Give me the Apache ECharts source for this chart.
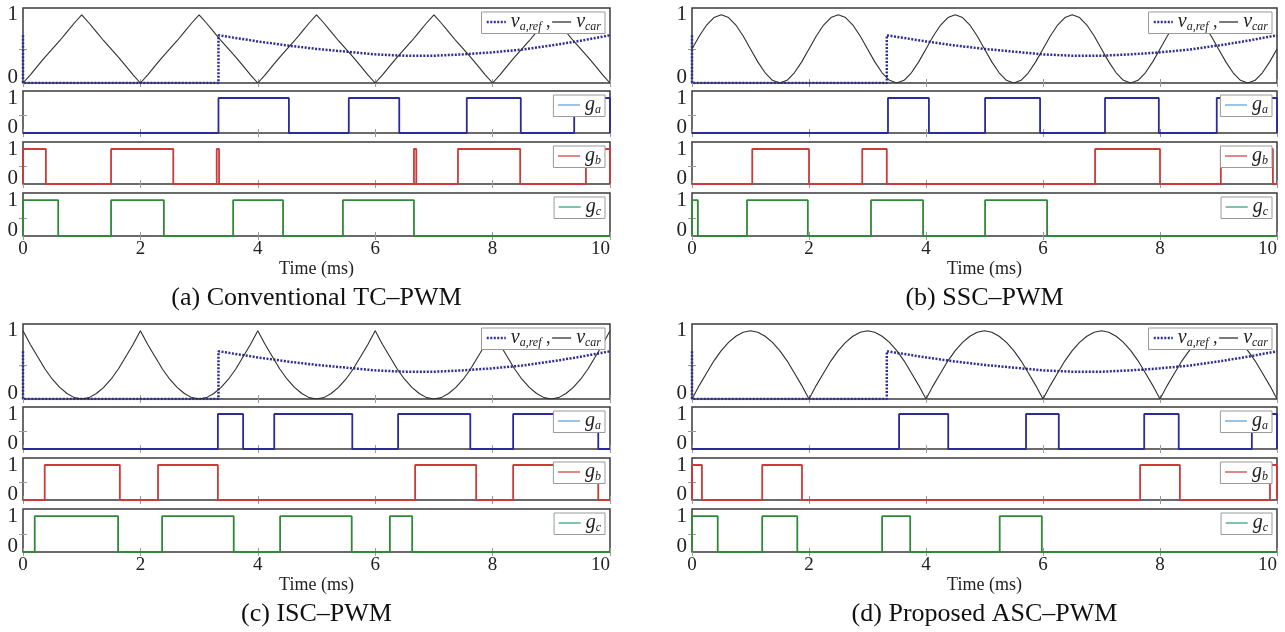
<!DOCTYPE html>
<html>
<head>
<meta charset="utf-8">
<title>PWM carriers</title>
<script src="https://cdn.jsdelivr.net/npm/echarts@6/dist/echarts.min.js"></script>
<style>
html,body{margin:0;padding:0;background:#fff;}
#chart{width:1285px;height:632px;}
</style>
</head>
<body>
<div id="chart"></div>
<script>
// one carrier period (ms), repeated from each start
var periodT = [0, 0.125, 0.25, 0.375, 0.5, 0.625, 0.75, 0.875, 1, 1.125, 1.25, 1.375, 1.5, 1.625, 1.75, 1.875, 2];
var periodStarts = [0, 2, 4, 6, 8];
var carrierTC  = [0, 0.12, 0.25, 0.38, 0.5, 0.62, 0.75, 0.88, 1, 0.88, 0.75, 0.62, 0.5, 0.38, 0.25, 0.12, 0];
var carrierSSC = [0.5, 0.69, 0.85, 0.96, 1, 0.96, 0.85, 0.69, 0.5, 0.31, 0.15, 0.04, 0, 0.04, 0.15, 0.31, 0.5];
var carrierISC = [1, 0.8, 0.62, 0.44, 0.29, 0.17, 0.08, 0.02, 0, 0.02, 0.08, 0.17, 0.29, 0.44, 0.62, 0.8, 1];
var carrierASC = [0, 0.2, 0.38, 0.56, 0.71, 0.83, 0.92, 0.98, 1, 0.98, 0.92, 0.83, 0.71, 0.56, 0.38, 0.2, 0];

// reference of phase a
var refT = [0, 0, 3.33, 3.33, 4, 4.5, 5, 5.5, 6, 6.5, 7, 7.5, 8, 8.5, 9, 9.5, 10];
var refV = [0.7, 0, 0, 0.7, 0.61, 0.55, 0.5, 0.46, 0.42, 0.4, 0.4, 0.42, 0.45, 0.49, 0.55, 0.62, 0.7];

// gate on/off times (ms)
var gaTC = [[3.33, 4.53], [5.55, 6.41], [7.56, 8.48], [9.39, 10]];
var gbTC = [[0, 0.39], [1.5, 2.56], [3.3, 3.34], [6.66, 6.7], [7.41, 8.47], [9.59, 10]];
var gcTC = [[0, 0.6], [1.5, 2.4], [3.58, 4.43], [5.45, 6.66]];

var gaSSC = [[3.35, 4.05], [5.01, 5.95], [7.06, 7.98], [8.97, 10]];
var gbSSC = [[1.03, 2.0], [2.91, 3.33], [6.89, 8.0], [9.04, 9.93]];
var gcSSC = [[0, 0.1], [0.94, 1.98], [3.06, 3.95], [5.01, 6.07]];

var gaISC = [[3.32, 3.75], [4.28, 5.61], [6.39, 7.62], [8.35, 9.8]];
var gbISC = [[0.37, 1.65], [2.3, 3.32], [6.68, 7.72], [8.35, 9.8]];
var gcISC = [[0.2, 1.62], [2.37, 3.59], [4.38, 5.6], [6.25, 6.63]];

var gaASC = [[3.54, 4.38], [5.71, 6.27], [7.73, 8.32], [9.57, 10]];
var gbASC = [[0, 0.17], [1.2, 1.88], [7.66, 8.34], [9.88, 10]];
var gcASC = [[0, 0.44], [1.2, 1.8], [3.25, 3.73], [5.26, 5.98]];

var yLabels = [0, 1];
var yTicks = [0.5];
var captions = ['(a) Conventional TC\u2013PWM', '(b) SSC\u2013PWM', '(c) ISC\u2013PWM', '(d) Proposed ASC\u2013PWM'];

var FONT = 'Liberation Serif';
var colors = {ref: '#2d2d95', car: '#2e2e2e', ga: '#2a2a9c', gb: '#cc3a3a', gc: '#2f8a37'};
var legendLine = {ga: '#5b9bd5', gb: '#cc3a3a', gc: '#2f9a6a'};

var panels = [
    {left: 23, width: 587, top: 8, carrier: carrierTC, ga: gaTC, gb: gbTC, gc: gcTC},
    {left: 692, width: 585, top: 8, carrier: carrierSSC, ga: gaSSC, gb: gbSSC, gc: gcSSC},
    {left: 23, width: 587, top: 324, carrier: carrierISC, ga: gaISC, gb: gbISC, gc: gcISC},
    {left: 692, width: 585, top: 324, carrier: carrierASC, ga: gaASC, gb: gbASC, gc: gcASC}
];
var rows = [
    {off: 0, h: 75, max: 1.1},
    {off: 83, h: 42, max: 1.2},
    {off: 134, h: 42, max: 1.2},
    {off: 185, h: 43, max: 1.2}
];

function carrierData(vals) {
    var out = [];
    periodStarts.forEach(function (s, k) {
        for (var j = (k === 0 ? 0 : 1); j < periodT.length; j++) {
            out.push([s + periodT[j], vals[j]]);
        }
    });
    return out;
}
function pulseData(list) {
    var out = [[0, 0]];
    list.forEach(function (p) {
        out.push([p[0], 0], [p[0], 1], [p[1], 1], [p[1], 0]);
    });
    out.push([10, 0]);
    return out;
}
function refData() {
    return refT.map(function (t, i) { return [t, refV[i]]; });
}

var rich = {
    v: {fontFamily: FONT, fontStyle: 'italic', fontSize: 20, color: '#222'},
    s: {fontFamily: FONT, fontStyle: 'italic', fontSize: 12, color: '#222', padding: [9, 0, 0, 0]},
    c: {fontFamily: FONT, fontSize: 18, color: '#222'}
};
var legendText = {
    va_ref: '{v|v}{s|a,ref}{c| ,}',
    v_car: '{v|v}{s|car}',
    ga: '{v|g}{s|a}',
    gb: '{v|g}{s|b}',
    gc: '{v|g}{s|c}'
};

var grid = [], xAxis = [], yAxis = [], series = [], legend = [], title = [];

panels.forEach(function (p, pi) {
    rows.forEach(function (r, ri) {
        var gi = grid.length;
        var last = ri === rows.length - 1;
        grid.push({
            left: p.left, width: p.width, top: p.top + r.off, height: r.h,
            show: true, borderColor: '#3a3a3a', borderWidth: 1.5
        });
        var tick = {inside: true, length: 4, lineStyle: {color: '#9a9a9a'}};
        xAxis.push({
            gridIndex: gi, type: 'value', min: 0, max: 10, interval: 2,
            axisLine: {show: false}, axisTick: tick, splitLine: {show: false},
            axisLabel: {show: last, fontFamily: FONT, fontSize: 19, color: '#222', margin: 4, alignMaxLabel: 'right'},
            name: last ? 'Time (ms)' : '', nameLocation: 'middle', nameGap: 14,
            nameTextStyle: {fontFamily: FONT, fontSize: 18, color: '#222'}
        });
        xAxis.push({
            gridIndex: gi, type: 'value', position: 'top', min: 0, max: 10, interval: 2,
            axisLine: {show: false}, axisTick: tick, splitLine: {show: false}, axisLabel: {show: false}
        });
        yAxis.push({
            gridIndex: gi, type: 'value', min: 0, max: r.max,
            axisLine: {show: false}, splitLine: {show: false},
            axisTick: {inside: true, length: 4, lineStyle: {color: '#9a9a9a'}, customValues: yTicks},
            axisLabel: {customValues: yLabels, fontFamily: FONT, fontSize: 21, lineHeight: 12, color: '#222', margin: 5,
                verticalAlignMinLabel: 'bottom'}
        });
        yAxis.push({
            gridIndex: gi, type: 'value', position: 'right', min: 0, max: r.max,
            axisLine: {show: false}, splitLine: {show: false}, axisLabel: {show: false},
            axisTick: {inside: true, length: 4, lineStyle: {color: '#9a9a9a'}, customValues: yTicks}
        });
        var xi = 2 * gi, yi = 2 * gi;
        var right = 1285 - (p.left + p.width) + 5;
        var lg = {
            orient: 'horizontal', right: right, top: p.top + r.off + 4,
            backgroundColor: '#fff', borderColor: '#9a9a9a', borderWidth: 1,
            padding: [0, 4, 1, 4], itemGap: 1, itemWidth: 19, itemHeight: 12,
            selectedMode: false,
            itemStyle: {opacity: 0},
            formatter: function (name) { return legendText[name]; },
            textStyle: {rich: rich}
        };
        if (ri === 0) {
            series.push({
                name: 'va_ref', type: 'line', xAxisIndex: xi, yAxisIndex: yi, symbol: 'none',
                data: refData(), z: 3, itemStyle: {color: colors.ref},
                lineStyle: {color: colors.ref, width: 2.5, type: [2, 1.5]}
            });
            series.push({
                name: 'v_car', type: 'line', xAxisIndex: xi, yAxisIndex: yi, symbol: 'none',
                data: carrierData(p.carrier), itemStyle: {color: colors.car},
                lineStyle: {color: colors.car, width: 1.1}
            });
            lg.data = [
                {name: 'va_ref', lineStyle: {color: colors.ref, width: 2.5, type: [2, 1.5]}},
                {name: 'v_car', lineStyle: {color: '#222', width: 1.2}}
            ];
        } else {
            var key = ['ga', 'gb', 'gc'][ri - 1];
            series.push({
                name: key, type: 'line', xAxisIndex: xi, yAxisIndex: yi, symbol: 'none',
                data: pulseData(p[key]), itemStyle: {color: colors[key]},
                lineStyle: {color: colors[key], width: 1.8}
            });
            lg.data = [{name: key, lineStyle: {color: legendLine[key], width: 1.2}}];
            lg.itemWidth = 22;
        }
        legend.push(lg);
    });
    title.push({
        text: captions[pi], left: p.left + p.width / 2, textAlign: 'center',
        top: p.top + 277, padding: 0,
        textStyle: {fontFamily: FONT, fontSize: 26, fontWeight: 'normal', color: '#111'}
    });
});

var option = {
    animation: false,
    backgroundColor: '#fff',
    title: title,
    legend: legend,
    grid: grid,
    xAxis: xAxis,
    yAxis: yAxis,
    series: series
};

var myChart = echarts.init(document.getElementById('chart'));
myChart.setOption(option, true);
window.onresize = myChart.resize;
</script>
</body>
</html>
